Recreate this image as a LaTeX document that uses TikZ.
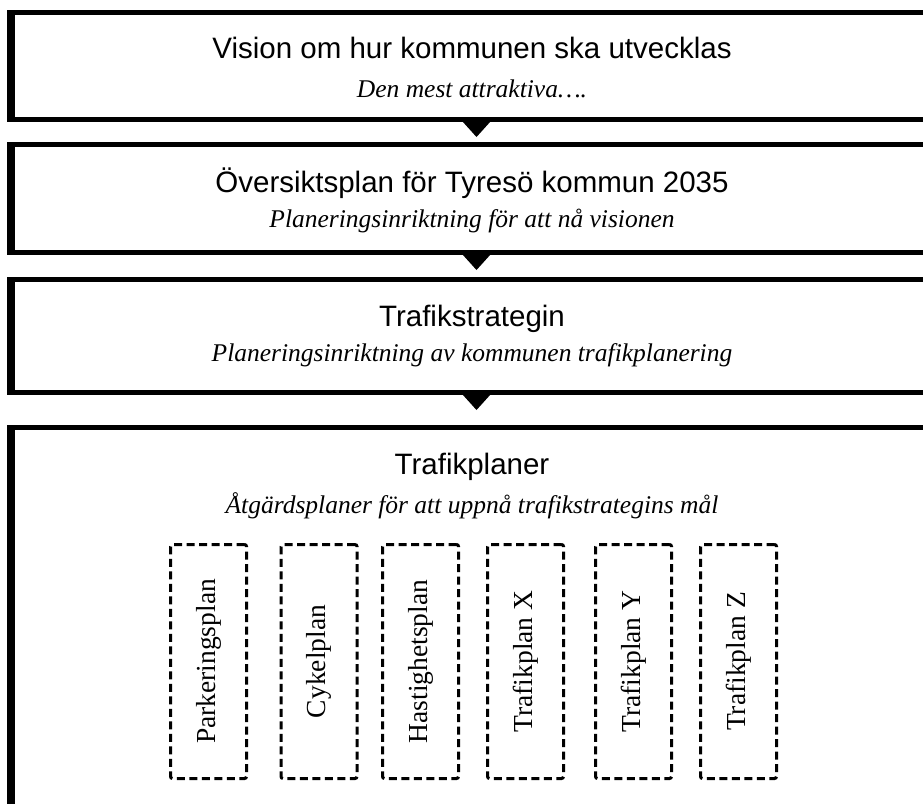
\documentclass[tikz,border=0pt]{standalone}
\usepackage{fontspec}
\setmainfont{Liberation Serif}
\newfontfamily\titlefont{Liberation Sans}
\usetikzlibrary{calc}
\begin{document}
\begin{tikzpicture}[x=1pt,y=1pt,
  panel/.style={draw, line width=5pt, rectangle, inner sep=0pt, outer sep=0pt, anchor=north west},
  title/.style={anchor=base, inner sep=0pt, font=\titlefont\fontsize{29.5}{35}\selectfont},
  subtitle/.style={anchor=base, inner sep=0pt, font=\itshape\fontsize{25.5}{30}\selectfont},
  planbox/.style={draw, dash pattern=on 8pt off 4.5pt, line width=3pt, rounded corners=2pt, minimum width=76pt, minimum height=234pt, inner sep=0pt},
  plantext/.style={rotate=90, inner sep=0pt, font=\fontsize{27.5}{32}\selectfont},
  flow/.style={fill=black},
]
\fill[white] (0,0) rectangle (923,-803);
\useasboundingbox (0,0) rectangle (923,-803);

% panels
\node[panel, minimum width=931pt, minimum height=107pt] (b1) at (11,-12.5) {};
\node[panel, minimum width=931pt, minimum height=108pt] (b2) at (11,-144.5) {};
\node[panel, minimum width=931pt, minimum height=113pt] (b3) at (11,-279.5) {};
\node[panel, minimum width=931pt, minimum height=420pt] (b4) at (11,-427) {};

% thicker left edges
\foreach \b in {b1,b2,b3,b4} {
  \fill ($(\b.north west)+(-4,2.5)$) rectangle ($(\b.south west)+(4,-2.5)$);
}

% connectors (triangles)
\foreach \b in {b1,b2,b3} {
  \fill[flow] ($(\b.south)+(-14,-2)$) -- ($(\b.south)+(14,-2)$) -- ($(\b.south)+(0,-17.5)$) -- cycle;
}

% texts
\node[title] (t1) at (472,-58) {Vision om hur kommunen ska utvecklas};
\node[subtitle] (s1) at (472,-97) {Den mest attraktiva….};
\node[title] (t2) at (472,-192) {Översiktsplan för Tyresö kommun 2035};
\node[subtitle] (s2) at (472,-227) {Planeringsinriktning för att nå visionen};
\node[title] (t3) at (472,-326) {Trafikstrategin};
\node[subtitle] (s3) at (472,-361) {Planeringsinriktning av kommunen trafikplanering};
\node[title] (t4) at (472,-474) {Trafikplaner};
\node[subtitle] (s4) at (472,-513) {Åtgärdsplaner för att uppnå trafikstrategins mål};

% plan boxes
\node[planbox] (p1) at (208.5,-661.5) {};
\node[planbox] (p2) at (319,-661.5) {};
\node[planbox] (p3) at (420.5,-661.5) {};
\node[planbox] (p4) at (525.5,-661.5) {};
\node[planbox] (p5) at (633.5,-661.5) {};
\node[planbox] (p6) at (738.5,-661.5) {};
\node[plantext] (q1) at (p1) {Parkeringsplan};
\node[plantext] (q2) at (p2) {Cykelplan};
\node[plantext] (q3) at (p3) {Hastighetsplan};
\node[plantext] (q4) at (p4) {Trafikplan X};
\node[plantext] (q5) at (p5) {Trafikplan Y};
\node[plantext] (q6) at (p6) {Trafikplan Z};
\end{tikzpicture}
\end{document}
